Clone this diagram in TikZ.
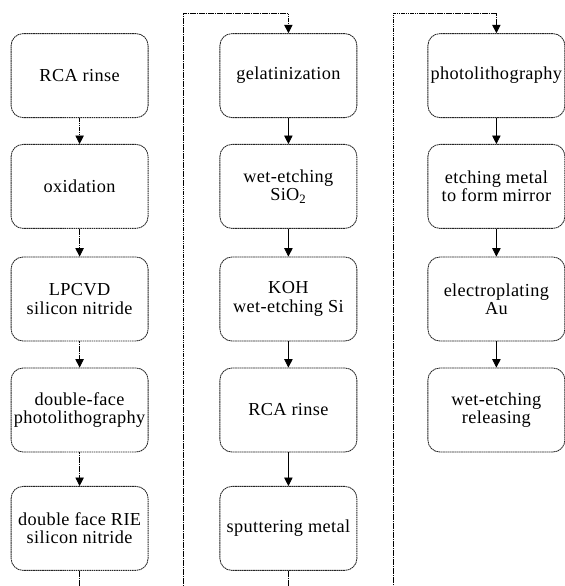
\documentclass[tikz,border=0pt]{standalone}
\usepackage{fontspec}
\setmainfont{Liberation Serif}[LetterSpace=2]
\usetikzlibrary{arrows.meta}

\begin{document}
\begin{tikzpicture}[
  stepbox/.style={draw=black!85,dash pattern=on 1.2pt off 0.4pt,semithick,
    rounded corners=0.3cm,minimum width=3.425cm,minimum height=2.1cm,
    inner sep=0.5pt,align=center,font=\fontsize{13}{13}\selectfont},
  flow/.style={-{Triangle[length=6pt,width=6pt]},semithick},
  dotflow/.style={flow,dash pattern=on 1.2pt off 0.4pt}
]
\clip (0,0) rectangle (14.125,-14.65);

\node [stepbox] (rca)     at ( 1.99, -1.89) {RCA rinse};
\node [stepbox] (oxid)    at ( 1.99, -4.66) {oxidation};
\node [stepbox] (lpcvd)   at ( 1.99,-7.475) {LPCVD\\ silicon nitride};
\node [stepbox] (dphoto)  at ( 1.99,-10.25) {double-face\\ photolithography};
\node [stepbox] (rie)     at ( 1.99,-13.21) {double face RIE\\ silicon nitride};

\node [stepbox] (gel)     at ( 7.21, -1.89) {gelatinization};
\node [stepbox] (wetsio)  at ( 7.21, -4.66) {wet-etching\\ SiO\textsubscript{2}};
\node [stepbox] (koh)     at ( 7.21,-7.475) {KOH\\ wet-etching Si};
\node [stepbox] (rcatwo)  at ( 7.21,-10.25) {RCA rinse};
\node [stepbox] (sputter) at ( 7.21,-13.21) {sputtering metal};

\node [stepbox] (photo)   at (12.41, -1.89) {photolithography};
\node [stepbox] (mirror)  at (12.41, -4.66) {etching metal\\ to form mirror};
\node [stepbox] (plating) at (12.41,-7.475) {electroplating\\ Au};
\node [stepbox] (release) at (12.41,-10.25) {wet-etching\\ releasing};

\coordinate (loopA) at (4.575,   -15);
\coordinate (topA)  at (4.575,-0.325);
\coordinate (loopB) at (9.825,   -15);
\coordinate (topB)  at (9.825,-0.325);

\draw [dotflow] (node cs:name=rca) -- (node cs:name=oxid);
\draw [dotflow] (node cs:name=oxid) -- (node cs:name=lpcvd);
\draw [dotflow] (node cs:name=lpcvd) -- (node cs:name=dphoto);
\draw [dotflow] (node cs:name=dphoto) -- (node cs:name=rie);
\draw [dotflow] (node cs:name=rie) |- (loopA) -- (topA) -| (node cs:name=gel);

\draw [flow] (node cs:name=gel) -- (node cs:name=wetsio);
\draw [flow] (node cs:name=wetsio) -- (node cs:name=koh);
\draw [flow] (node cs:name=koh) -- (node cs:name=rcatwo);
\draw [flow] (node cs:name=rcatwo) -- (node cs:name=sputter);
\draw [dotflow] (node cs:name=sputter) |- (loopB) -- (topB) -| (node cs:name=photo);

\draw [flow] (node cs:name=photo) -- (node cs:name=mirror);
\draw [flow] (node cs:name=mirror) -- (node cs:name=plating);
\draw [flow] (node cs:name=plating) -- (node cs:name=release);
\end{tikzpicture}
\end{document}
